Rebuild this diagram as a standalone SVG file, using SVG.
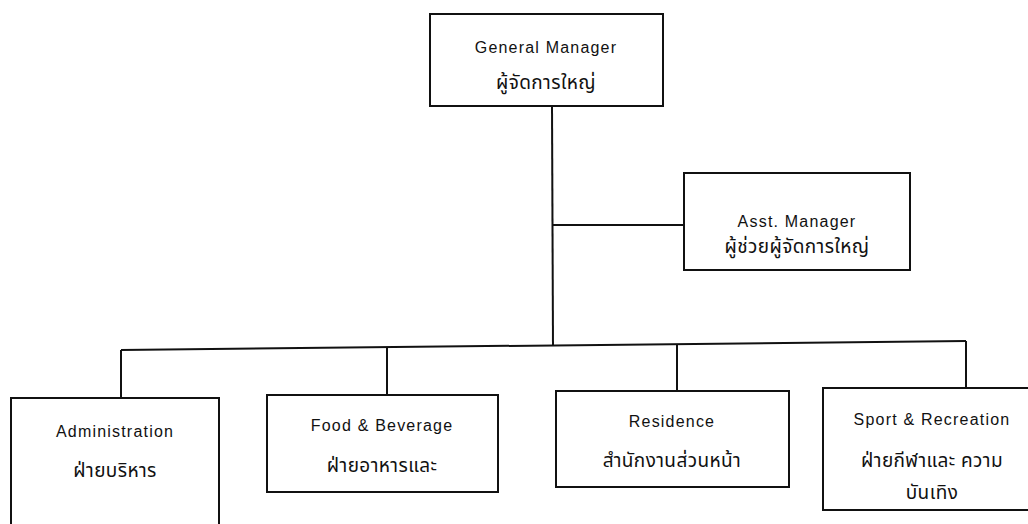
<svg xmlns="http://www.w3.org/2000/svg" width="1028" height="524" viewBox="0 0 1028 524">
<style>
.box{fill:#fff;stroke:#111;stroke-width:2}
.ln{stroke:#111;stroke-width:2;fill:none}
.en{font-family:"Liberation Sans",Arial,sans-serif;font-size:16px;letter-spacing:1.2px;fill:#111;text-anchor:middle}
.th{font-family:"Noto Sans Thai","Noto Sans Thai UI","Loma","Garuda","Norasi","Noto Sans","DejaVu Sans",sans-serif;font-size:19px;letter-spacing:0.4px;fill:#111;text-anchor:middle}
</style>
<rect width="1028" height="524" fill="#fff"/>
<g id="connectors">
<line class="ln" x1="552" y1="106" x2="553" y2="346"/>
<line class="ln" x1="552" y1="225" x2="684" y2="225"/>
<line class="ln" x1="121" y1="350" x2="966" y2="341"/>
<line class="ln" x1="121" y1="350" x2="121" y2="398"/>
<line class="ln" x1="387" y1="347" x2="387" y2="395"/>
<line class="ln" x1="677" y1="344" x2="677" y2="391"/>
<line class="ln" x1="966" y1="341" x2="966" y2="388"/>
</g>
<g id="gm">
<rect class="box" x="430" y="14" width="233" height="92"/>
<text class="en" x="546" y="53">General  Manager</text>
<text class="th" x="546" y="89">ผู้จัดการใหญ่</text>
</g>
<g id="asst">
<rect class="box" x="684" y="173" width="226" height="97"/>
<text class="en" x="797" y="227">Asst. Manager</text>
<text class="th" x="797" y="253">ผู้ช่วยผู้จัดการใหญ่</text>
</g>
<g id="admin">
<rect class="box" x="11" y="398" width="208" height="140"/>
<text class="en" x="115" y="437">Administration</text>
<text class="th" x="115" y="477">ฝ่ายบริหาร</text>
</g>
<g id="fnb">
<rect class="box" x="267" y="395" width="231" height="97"/>
<text class="en" x="382" y="431">Food &amp; Beverage</text>
<text class="th" x="382" y="472">ฝ่ายอาหารและ</text>
</g>
<g id="residence">
<rect class="box" x="556" y="391" width="233" height="96"/>
<text class="en" x="672" y="427">Residence</text>
<text class="th" x="672" y="467">สำนักงานส่วนหน้า</text>
</g>
<g id="sport">
<rect class="box" x="823" y="388" width="210" height="122"/>
<text class="en" x="932" y="425">Sport &amp; Recreation</text>
<text class="th" x="932" y="467">ฝ่ายกีฬาและ ความ</text>
<text class="th" x="932" y="499">บันเทิง</text>
</g>
</svg>
